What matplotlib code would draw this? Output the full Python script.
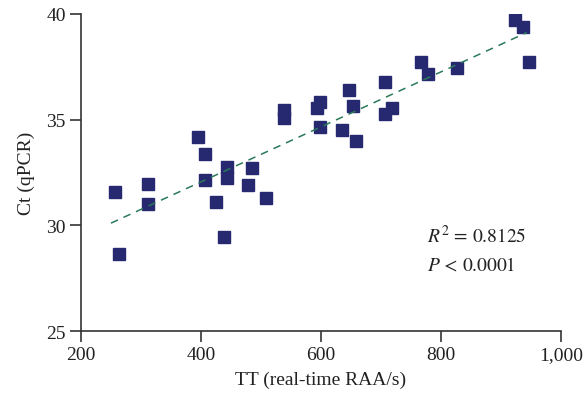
import numpy as np
import matplotlib
matplotlib.use("Agg")
import matplotlib.pyplot as plt
from matplotlib.ticker import FuncFormatter

plt.rcParams["font.family"] = ["Liberation Serif", "DejaVu Serif"]
plt.rcParams["mathtext.fontset"] = "stix"

# TT (real-time RAA/s) vs Ct (qPCR)
tt = [257, 264, 312, 312, 395, 407, 407, 425, 439, 444, 444, 485, 479, 509,
      539, 539, 594, 599, 599, 635, 647, 654, 659, 707, 707, 718, 767, 779,
      827, 923, 937, 947]
ct = [31.56, 28.64, 31.94, 31.0, 34.17, 33.36, 32.13, 31.09, 29.43, 32.75,
      32.23, 32.7, 31.9, 31.29, 35.46, 35.07, 35.54, 35.82, 34.64, 34.51,
      36.39, 35.63, 33.98, 36.8, 35.28, 35.57, 37.74, 37.18, 37.46, 39.7,
      39.39, 37.73]

r2_text = r"$R^2$ = 0.8125"
p_text = r"$P$ < 0.0001"

fig = plt.figure(figsize=(5.86, 4.02), dpi=100)
ax = fig.add_axes([0.1382, 0.1741, 0.819, 0.7886])

tt = np.array(tt)
ct = np.array(ct)
slope, icpt = np.polyfit(tt, ct, 1)
xl = np.array([250, 943])
ax.plot(xl, slope * xl + icpt, ls=(0, (5, 4)), color="#2a7a5a", lw=1.1,
        zorder=3)
ax.plot(tt, ct, "s", color="#262870", markersize=9.2, zorder=2)

ax.set_xlim(200, 1000)
ax.set_ylim(25, 40)
ax.set_xticks([200, 400, 600, 800, 1000])
ax.set_yticks([25, 30, 35, 40])
ax.xaxis.set_major_formatter(FuncFormatter(lambda v, p: "{:,.0f}".format(v)))

for s in ["top", "right"]:
    ax.spines[s].set_visible(False)
for s in ["left", "bottom"]:
    ax.spines[s].set_color("#333333")
    ax.spines[s].set_linewidth(1.2)
ax.tick_params(direction="out", length=8, width=1.2, color="#333333",
               labelsize=14, labelcolor="#222222", pad=3)

ax.set_xlabel("TT (real-time RAA/s)", fontsize=14, color="#222222",
              labelpad=5)
ax.set_ylabel("Ct (qPCR)", fontsize=14, color="#222222", labelpad=8)

ax.text(777, 29.21, r2_text, fontsize=14, color="#222222",
        fontfamily="STIXGeneral")
ax.text(777, 27.93, p_text, fontsize=14, color="#222222",
        fontfamily="STIXGeneral")

fig.savefig("out.png", dpi=100)
